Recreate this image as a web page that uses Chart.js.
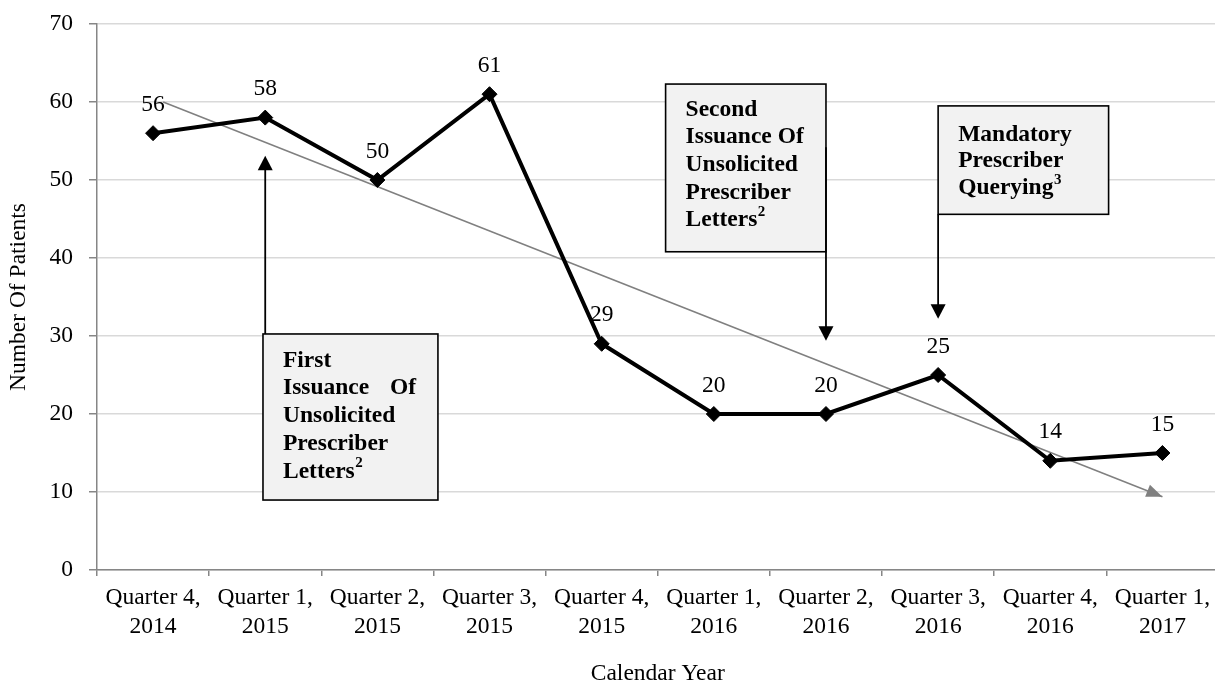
<!DOCTYPE html>
<html>
<head>
<meta charset="utf-8">
<title>Number Of Patients by Calendar Year</title>
<script src="https://cdn.jsdelivr.net/npm/chart.js@4.4.1/dist/chart.umd.min.js"></script>
<style>
    html, body { margin: 0; padding: 0; background: #fff; overflow: hidden; }
    #wrap { width: 1215px; height: 680px; overflow: hidden; }
    canvas { display: block; }
</style>
</head>
<body>
<div id="wrap"><canvas id="patientsChart" width="1227" height="690"></canvas></div>
<script>
/* ===== Data ===== */

var quarterLabels = [
    ['Quarter 4,', '2014'], ['Quarter 1,', '2015'], ['Quarter 2,', '2015'],
    ['Quarter 3,', '2015'], ['Quarter 4,', '2015'], ['Quarter 1,', '2016'],
    ['Quarter 2,', '2016'], ['Quarter 3,', '2016'], ['Quarter 4,', '2016'],
    ['Quarter 1,', '2017']
];
var patientCounts = [56, 58, 50, 61, 29, 20, 20, 25, 14, 15];

// start and end of the downward trend arrow (x = quarter index)
var trendPoints = [{ x: 0.09, y: 60 }, { x: 9, y: 9.4 }];

// callout texts, "^" marks a superscript note number
var firstLettersText = ['First', 'Issuance Of', 'Unsolicited', 'Prescriber', 'Letters^2'];
var secondLettersText = ['Second', 'Issuance Of', 'Unsolicited', 'Prescriber', 'Letters^2'];
var queryingText = ['Mandatory', 'Prescriber', 'Querying^3'];


/* ===== Styles ===== */

var serif = '"Liberation Serif", "Times New Roman", serif';
var colors = {
    line: '#000000',
    trend: '#808080',
    axis: '#868686',
    grid: '#d9d9d9',
    boxFill: '#f2f2f2',
};


/* ===== Plugins ===== */

// value labels above each point of the patient line
var valueLabels = {
    id: 'valueLabels',
    afterDatasetsDraw: function(chart) {
        var ctx = chart.ctx;
        var meta = chart.getDatasetMeta(1);
        ctx.save();
        ctx.font = '23.5px ' + serif;
        ctx.fillStyle = '#000';
        ctx.textAlign = 'center';
        ctx.textBaseline = 'alphabetic';
        meta.data.forEach(function(pt, i) {
            ctx.fillText(String(patientCounts[i]), pt.x, pt.y - 22.5);
        });
        ctx.restore();
    }
};

// arrow head at the end of the trend line
var trendArrow = {
    id: 'trendArrow',
    afterDatasetsDraw: function(chart) {
        var pts = chart.getDatasetMeta(0).data;
        if (pts.length < 2) return;
        var a = pts[pts.length - 2], b = pts[pts.length - 1];
        var ang = Math.atan2(b.y - a.y, b.x - a.x);
        var ctx = chart.ctx;
        ctx.save();
        ctx.translate(b.x, b.y);
        ctx.rotate(ang);
        ctx.fillStyle = colors.trend;
        ctx.beginPath();
        ctx.moveTo(0, 0);
        ctx.lineTo(-16, -6.5);
        ctx.lineTo(-16, 6.5);
        ctx.closePath();
        ctx.fill();
        ctx.restore();
    }
};

function drawCalloutLine(ctx, line, x, y, justifyWidth, isLast) {
    var parts = line.split('^');
    var main = parts[0];
    var words = main.split(' ');
    if (justifyWidth && !isLast && words.length > 1) {
        ctx.textAlign = 'left';
        ctx.fillText(words[0], x, y);
        ctx.textAlign = 'right';
        ctx.fillText(words[words.length - 1], x + justifyWidth, y);
        ctx.textAlign = 'left';
    } else {
        ctx.fillText(main, x, y);
    }
    if (parts[1]) {
        var w = ctx.measureText(main).width;
        var keep = ctx.font;
        ctx.font = 'bold 15px ' + serif;
        ctx.fillText(parts[1], x + w + 0.5, y - 10.5);
        ctx.font = keep;
    }
}

// boxed event notes with arrows pointing at a quarter
var callouts = {
    id: 'callouts',
    afterDatasetsDraw: function(chart, args, opts) {
        var ctx = chart.ctx;
        var xs = chart.scales.xTrend;
        var ys = chart.scales.y;
        opts.items.forEach(function(c) {
            var left = xs.getPixelForValue(c.xMin);
            var right = xs.getPixelForValue(c.xMax);
            var top = ys.getPixelForValue(c.yMax);
            var bottom = ys.getPixelForValue(c.yMin);

            ctx.save();
            ctx.fillStyle = colors.boxFill;
            ctx.fillRect(left, top, right - left, bottom - top);
            ctx.strokeStyle = '#000';
            ctx.lineWidth = 1.6;
            ctx.strokeRect(left, top, right - left, bottom - top);

            // arrow
            var ax = xs.getPixelForValue(c.arrowX);
            var y0 = ys.getPixelForValue(c.arrowFrom);
            var y1 = ys.getPixelForValue(c.arrowTo);
            var dir = y1 > y0 ? 1 : -1;
            ctx.lineWidth = 1.8;
            ctx.beginPath();
            ctx.moveTo(ax, y0);
            ctx.lineTo(ax, y1 - dir * 12);
            ctx.stroke();
            ctx.fillStyle = '#000';
            ctx.beginPath();
            ctx.moveTo(ax, y1);
            ctx.lineTo(ax - 7.5, y1 - dir * 14.5);
            ctx.lineTo(ax + 7.5, y1 - dir * 14.5);
            ctx.closePath();
            ctx.fill();

            // text
            ctx.font = 'bold 23.5px ' + serif;
            ctx.fillStyle = '#000';
            ctx.textBaseline = 'alphabetic';
            ctx.textAlign = 'left';
            c.lines.forEach(function(line, i) {
                drawCalloutLine(ctx, line, left + 20, top + c.firstBaseline + i * c.lineGap,
                    c.justify, i === c.lines.length - 1);
            });
            ctx.restore();
        });
    }
};


/* ===== Chart ===== */

new Chart(document.getElementById('patientsChart'), {
    type: 'line',
    data: {
        labels: quarterLabels,
        datasets: [
            {
                label: 'Trend',
                data: trendPoints,
                xAxisID: 'xTrend',
                borderColor: colors.trend,
                borderWidth: 1.6,
                pointRadius: 0,
                fill: false,
                order: 1,
            },
            {
                label: 'Number Of Patients',
                data: patientCounts,
                borderColor: colors.line,
                borderWidth: 4,
                pointStyle: 'rectRot',
                pointRadius: 7.5,
                pointBackgroundColor: colors.line,
                pointBorderColor: colors.line,
                pointBorderWidth: 1,
                tension: 0,
                fill: false,
                order: 0,
            },
        ],
    },
    options: {
        responsive: false,
        animation: false,
        layout: { padding: { top: 24, left: 0, right: 0, bottom: 0 } },
        plugins: {
            legend: { display: false },
            tooltip: { enabled: false },
            callouts: {
                items: [
                    {
                        lines: firstLettersText,
                        xMin: 0.98, xMax: 2.54, yMin: 8.97, yMax: 30.26,
                        arrowX: 1, arrowFrom: 30.26, arrowTo: 53.1,
                        firstBaseline: 32.7, lineGap: 27.8, justify: 133,
                    },
                    {
                        lines: secondLettersText,
                        xMin: 4.57, xMax: 6, yMin: 40.8, yMax: 62.3,
                        arrowX: 6, arrowFrom: 54.2, arrowTo: 29.4,
                        firstBaseline: 31.7, lineGap: 27.6,
                    },
                    {
                        lines: queryingText,
                        xMin: 7, xMax: 8.52, yMin: 45.6, yMax: 59.5,
                        arrowX: 7, arrowFrom: 45.6, arrowTo: 32.2,
                        firstBaseline: 34.7, lineGap: 26.7,
                    },
                ],
            },
        },
        scales: {
            x: {
                type: 'category',
                offset: true,
                grid: {
                    display: true,
                    offset: true,
                    drawOnChartArea: false,
                    drawTicks: true,
                    tickLength: 6,
                    color: colors.axis,
                    lineWidth: 1.5,
                },
                border: { color: colors.axis, width: 1.5 },
                ticks: {
                    color: '#000',
                    autoSkip: false,
                    maxRotation: 0,
                    padding: 7.5,
                    font: { family: serif, size: 23.5, lineHeight: 1.23 },
                },
                title: {
                    display: true,
                    text: 'Calendar Year',
                    color: '#000',
                    font: { family: serif, size: 23.5 },
                    padding: { top: 0, bottom: 2 },
                },
                afterFit: function(scale) { scale.height = 120; },
            },
            xTrend: {
                type: 'linear',
                display: false,
                min: -0.5,
                max: 9.5,
            },
            y: {
                min: 0,
                max: 70,
                ticks: {
                    stepSize: 10,
                    color: '#000',
                    padding: 16,
                    font: { family: serif, size: 23.5 },
                },
                grid: {
                    color: colors.grid,
                    lineWidth: 1.5,
                    tickLength: 8,
                    tickColor: colors.axis,
                },
                border: { color: colors.axis, width: 1.5 },
                title: {
                    display: true,
                    text: 'Number Of Patients',
                    color: '#000',
                    font: { family: serif, size: 23.5 },
                    padding: { top: 5, bottom: 0 },
                },
                afterFit: function(scale) {
                    scale.width = 97;
                    // keep the label overhang from pushing the plot top down
                    scale.paddingTop = 12;
                    scale.paddingBottom = 12;
                },
            },
        },
    },
    plugins: [trendArrow, callouts, valueLabels],
});
</script>
</body>
</html>
